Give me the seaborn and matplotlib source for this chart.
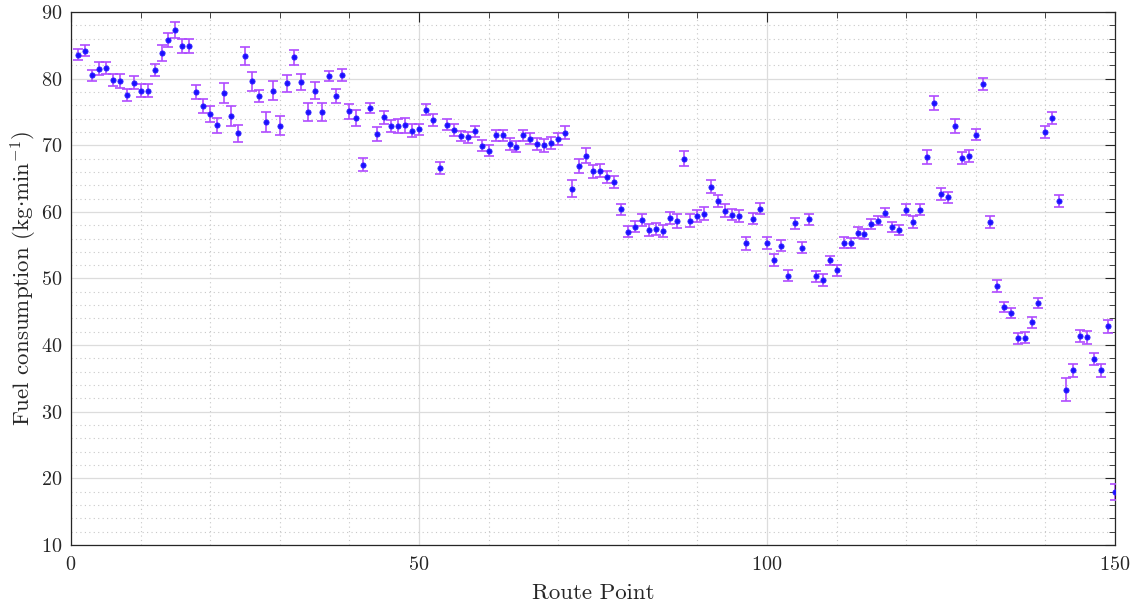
import numpy as np
import pandas as pd
import matplotlib
matplotlib.use("Agg")
import matplotlib.pyplot as plt
import seaborn as sns
from matplotlib.ticker import MultipleLocator

route_points = list(range(1, 151))

fuel = [
    83.6, 84.2, 80.5, 81.5, 81.6, 79.8, 79.6, 77.5, 79.4, 78.2,
    78.2, 81.3, 83.9, 85.8, 87.3, 84.9, 84.9, 78.0, 75.9, 74.7,
    73.0, 77.8, 74.4, 71.8, 83.4, 79.6, 77.4, 73.5, 78.2, 72.9,
    79.3, 83.2, 79.5, 75.0, 78.2, 75.0, 80.4, 77.4, 80.5, 75.1,
    74.1, 67.1, 75.6, 71.7, 74.2, 72.9, 72.9, 73.0, 72.2, 72.4,
    75.3, 73.8, 66.6, 73.1, 72.3, 71.4, 71.2, 72.1, 69.9, 69.2,
    71.5, 71.5, 70.2, 69.8, 71.5, 71.0, 70.2, 70.0, 70.4, 70.9,
    71.9, 63.5, 66.9, 68.4, 66.1, 66.2, 65.2, 64.5, 60.4, 57.0,
    57.8, 58.8, 57.3, 57.5, 57.2, 59.1, 58.7, 68.0, 58.7, 59.4,
    59.7, 63.8, 61.6, 60.2, 59.6, 59.4, 55.3, 59.0, 60.5, 55.3,
    52.8, 54.9, 50.4, 58.3, 54.6, 58.9, 50.3, 49.8, 52.7, 51.2,
    55.4, 55.4, 56.9, 56.7, 58.2, 58.7, 59.9, 57.7, 57.3, 60.3,
    58.5, 60.3, 68.3, 76.3, 62.7, 62.2, 72.9, 68.1, 68.4, 71.6,
    79.2, 58.5, 48.9, 45.7, 44.8, 41.0, 41.1, 43.4, 46.3, 72.0,
    74.1, 61.6, 33.3, 36.2, 41.3, 41.2, 37.9, 36.2, 42.8, 17.9,
]

fuel_err = [
    0.80, 0.80, 0.83, 0.93, 0.93, 0.95, 1.05, 0.90, 1.00, 0.98,
    0.98, 0.95, 1.20, 1.05, 1.13, 1.00, 1.00, 1.10, 1.10, 1.18,
    1.13, 1.50, 1.48, 1.25, 1.38, 1.45, 0.95, 1.48, 1.43, 1.43,
    1.25, 1.13, 1.25, 1.30, 1.33, 1.30, 0.80, 1.10, 0.88, 1.13,
    1.18, 0.93, 0.78, 1.03, 1.00, 0.90, 1.00, 1.10, 0.98, 0.85,
    0.83, 0.85, 0.93, 0.80, 0.85, 0.78, 0.80, 0.85, 0.83, 0.78,
    0.85, 0.85, 0.88, 0.80, 0.85, 0.88, 0.90, 0.98, 0.90, 0.90,
    0.93, 1.23, 1.10, 1.13, 0.98, 0.98, 0.93, 0.90, 0.85, 0.83,
    0.88, 0.85, 0.90, 0.90, 0.90, 0.93, 1.05, 1.13, 0.95, 0.90,
    0.98, 0.93, 0.93, 0.93, 0.88, 0.90, 1.00, 0.80, 0.88, 0.88,
    0.90, 0.83, 0.85, 0.85, 0.83, 0.85, 0.85, 0.88, 0.75, 0.85,
    0.78, 0.75, 0.78, 0.78, 0.70, 0.73, 0.73, 0.75, 0.70, 0.83,
    0.85, 0.83, 1.05, 1.03, 0.85, 0.80, 1.00, 0.95, 0.88, 0.85,
    0.93, 0.95, 0.88, 0.78, 0.78, 0.83, 0.83, 0.80, 0.80, 0.88,
    0.90, 0.93, 1.75, 0.95, 0.90, 0.98, 0.95, 1.03, 0.93, 1.18,
]

x_label = "Route Point"
y_label = r"Fuel consumption (kg$\cdot$min$^{-1}$)"

df = pd.DataFrame({"route": route_points, "fuel": fuel, "err": fuel_err})

sns.set_theme(style="white")
plt.rcParams["font.family"] = ["cmr10", "DejaVu Serif"]
plt.rcParams["mathtext.fontset"] = "cm"
plt.rcParams["axes.unicode_minus"] = False
plt.rcParams["axes.formatter.use_mathtext"] = True

fig = plt.figure(figsize=(11.35, 6.06), dpi=100)
ax = fig.add_axes([0.0626, 0.1007, 0.9198, 0.8795])

ax.errorbar(df["route"], df["fuel"], yerr=df["err"], fmt="none",
            ecolor="#b04cff", elinewidth=1.2, capsize=3.8, capthick=1.2, zorder=3)
sns.scatterplot(data=df, x="route", y="fuel", ax=ax, color="#1a10ff",
                edgecolor="#3020ff", s=14, linewidth=0.6, zorder=4, legend=False)

ax.set_xlim(0, 150)
ax.set_ylim(10, 90)
ax.xaxis.set_major_locator(MultipleLocator(50))
ax.xaxis.set_minor_locator(MultipleLocator(10))
ax.yaxis.set_major_locator(MultipleLocator(10))
ax.yaxis.set_minor_locator(MultipleLocator(2))

ax.grid(which="major", color="#dcdcdc", linewidth=0.9, linestyle="-", zorder=0)
ax.grid(which="minor", color="#c8c8c8", linewidth=0.8, linestyle=(0, (1, 3)), zorder=0)
ax.set_axisbelow(True)

ax.tick_params(which="both", direction="in", top=True, right=True, colors="#262626",
               labelsize=14.5)
ax.tick_params(which="major", length=7.5, width=0.8)
ax.tick_params(which="minor", length=4.5, width=0.6)
ax.tick_params(axis="x", which="both", pad=8)
ax.tick_params(axis="y", which="both", pad=6)
for s in ax.spines.values():
    s.set_color("#262626")
    s.set_linewidth(0.9)

ax.set_xlabel(x_label, fontsize=16.5, color="#262626", labelpad=7)
ax.set_ylabel(y_label, fontsize=16.5, color="#262626", labelpad=2)

fig.savefig("out.png", dpi=100)
